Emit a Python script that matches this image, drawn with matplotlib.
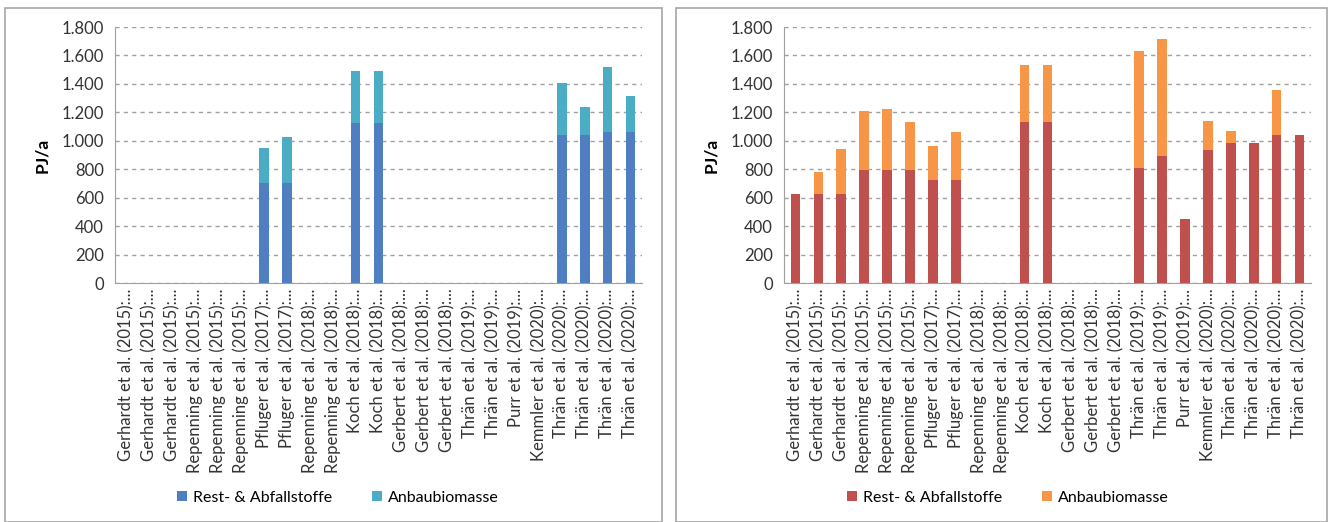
import matplotlib.pyplot as plt
import numpy as np
from matplotlib.patches import Rectangle
from matplotlib.ticker import FuncFormatter

plt.rcParams["font.family"] = ["Lato", "DejaVu Sans"]

studies = ["Gerhardt et al. (2015):...", "Gerhardt et al. (2015):...", "Gerhardt et al. (2015):...",
           "Repenning et al. (2015):...", "Repenning et al. (2015):...", "Repenning et al. (2015):...",
           "Pfluger et al. (2017):...", "Pfluger et al. (2017):...",
           "Repenning et al. (2018):...", "Repenning et al. (2018):...",
           "Koch et al. (2018):...", "Koch et al. (2018):...",
           "Gerbert et al. (2018):...", "Gerbert et al. (2018):...", "Gerbert et al. (2018):...",
           "Thrän et al. (2019):...", "Thrän et al. (2019):...", "Purr et al. (2019):...",
           "Kemmler et al. (2020):...", "Thrän et al. (2020):...", "Thrän et al. (2020):...",
           "Thrän et al. (2020):...", "Thrän et al. (2020):..."]

# left panel
rest_left = [0, 0, 0, 0, 0, 0, 700, 700, 0, 0, 1125, 1125, 0, 0, 0, 0, 0, 0, 0, 1043, 1043, 1060, 1060]
anbau_left = [0, 0, 0, 0, 0, 0, 252, 325, 0, 0, 367, 367, 0, 0, 0, 0, 0, 0, 0, 360, 197, 457, 253]

# right panel
rest_right = [624, 624, 624, 795, 795, 795, 722, 722, 0, 0, 1134, 1134, 0, 0, 0, 811, 893, 451,
              935, 984, 984, 1038, 1038]
anbau_right = [0, 155, 318, 414, 425, 334, 241, 342, 0, 0, 402, 402, 0, 0, 0, 821, 823, 0,
               201, 87, 0, 320, 0]

series_names = ["Rest- & Abfallstoffe", "Anbaubiomasse"]

fig = plt.figure(figsize=(13.3, 5.22), dpi=100)

# grey frames around the two charts
for x0, w in [(5, 657), (676, 651)]:
    fig.patches.append(Rectangle((x0 / 1330, 0.0), w / 1330, 1 - 8 / 522, transform=fig.transFigure,
                                 fill=False, edgecolor="#a6a6a6", linewidth=1.2))

thousands = FuncFormatter(lambda v, p: f"{int(v):,}".replace(",", "."))


def draw(ax, rest, anbau, colors, legend_x):
    x = np.arange(len(studies))
    ax.bar(x, rest, width=0.42, color=colors[0], label=series_names[0], zorder=3)
    ax.bar(x, anbau, width=0.42, bottom=rest, color=colors[1], label=series_names[1], zorder=3)
    ax.set_xlim(-0.5, len(studies) - 0.5)
    ax.set_ylim(0, 1800)
    ax.set_yticks(np.arange(0, 1801, 200))
    ax.yaxis.set_major_formatter(thousands)
    ax.grid(axis="y", linestyle=(0, (3, 3)), color="#a0a0a0", linewidth=1, zorder=0)
    ax.set_xticks(x)
    ax.set_xticklabels(studies, rotation=90, fontsize=12, color="#333333")
    ax.tick_params(axis="y", labelsize=12, length=0, labelcolor="#333333", pad=8)
    ax.tick_params(axis="x", length=0, pad=4)
    for s in ["top", "right"]:
        ax.spines[s].set_visible(False)
    for s in ["left", "bottom"]:
        ax.spines[s].set_color("#a0a0a0")
    ax.set_ylabel("PJ/a", fontsize=12.5, fontweight="bold", labelpad=8)
    fig.legend(handles=ax.containers, labels=series_names, loc="center",
               bbox_to_anchor=(legend_x, 0.046), ncol=2, frameon=False, fontsize=11.5,
               handlelength=0.6, handleheight=0.6, columnspacing=2.5, handletextpad=0.4)


ax1 = fig.add_axes([115 / 1330, 1 - 283 / 522, 527 / 1330, 256 / 522])
draw(ax1, rest_left, anbau_left, ["#4f7fc0", "#4bacc6"], 338 / 1330)

ax2 = fig.add_axes([784 / 1330, 1 - 283 / 522, 527 / 1330, 256 / 522])
draw(ax2, rest_right, anbau_right, ["#c0504d", "#f79646"], 1008 / 1330)

fig.savefig("out.png", dpi=100)
